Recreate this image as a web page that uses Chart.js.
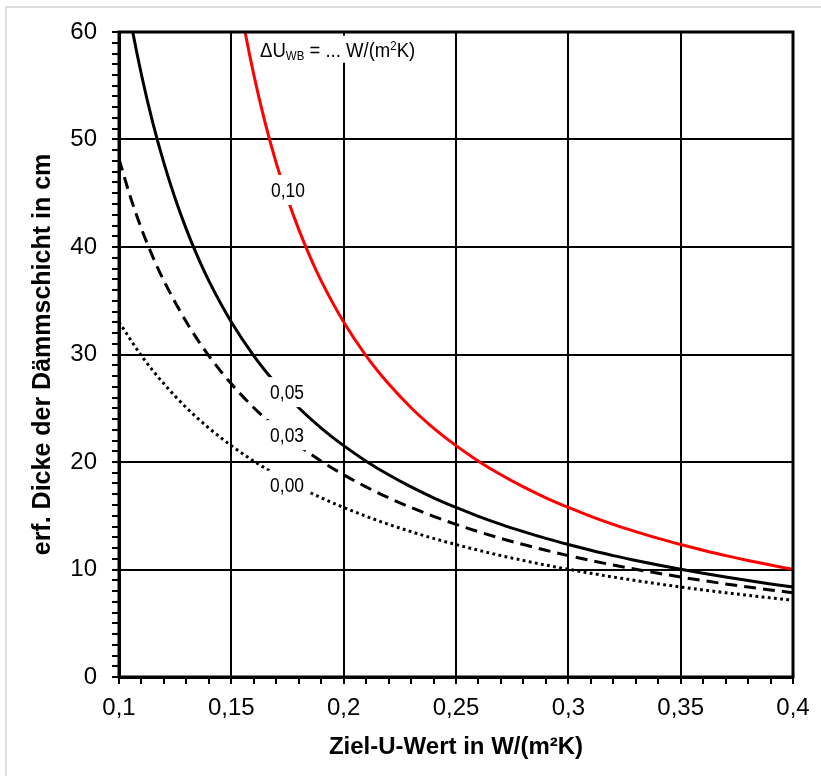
<!DOCTYPE html>
<html>
<head>
<meta charset="utf-8">
<script src="https://cdn.jsdelivr.net/npm/chart.js@4.4.1/dist/chart.umd.min.js"></script>
<style>
html,body{margin:0;padding:0;background:#fff;}
#wrap{position:relative;width:821px;height:776px;}
#frame{position:absolute;left:5px;top:6px;right:0;bottom:0;border-left:2px solid #dedede;border-top:2px solid #dedede;pointer-events:none;}
</style>
</head>
<body>
<div id="wrap"><canvas id="c"></canvas><div id="frame"></div></div>
<script>
// ---- data ----
// x: Ziel-U-Wert in W/(m²K), y: erf. Dicke der Dämmschicht in cm
const U_000 = [0.10,0.11,0.12,0.13,0.14,0.15,0.16,0.17,0.18,0.19,0.20,0.21,0.22,0.23,0.24,0.25,0.26,0.27,0.28,0.29,0.30,0.31,0.32,0.33,0.34,0.35,0.36,0.37,0.38,0.39,0.40];
const D_000 = [33.02,29.88,27.27,25.05,23.16,21.52,20.08,18.81,17.68,16.67,15.77,14.95,14.20,13.52,12.89,12.32,11.79,11.29,10.84,10.41,10.02,9.65,9.30,8.97,8.66,8.37,8.10,7.84,7.60,7.36,7.14];

const U_003 = [0.10,0.105,0.11,0.115,0.12,0.13,0.14,0.15,0.16,0.17,0.18,0.19,0.20,0.21,0.22,0.23,0.24,0.25,0.26,0.27,0.28,0.29,0.30,0.31,0.32,0.33,0.34,0.35,0.36,0.37,0.38,0.39,0.40];
const D_003 = [48.20,44.70,41.70,39.10,36.85,33.02,29.88,27.27,25.05,23.16,21.52,20.08,18.81,17.68,16.67,15.77,14.95,14.20,13.52,12.89,12.32,11.79,11.29,10.84,10.41,10.02,9.65,9.30,8.97,8.66,8.37,8.10,7.84];

const U_005 = [0.10,0.105,0.11,0.115,0.12,0.125,0.13,0.135,0.14,0.15,0.16,0.17,0.18,0.19,0.20,0.21,0.22,0.23,0.24,0.25,0.26,0.27,0.28,0.29,0.30,0.31,0.32,0.33,0.34,0.35,0.36,0.37,0.38,0.39,0.40];
const D_005 = [67.51,61.25,56.02,51.59,47.80,44.52,41.64,39.10,36.85,33.02,29.88,27.27,25.05,23.16,21.52,20.08,18.81,17.68,16.67,15.77,14.95,14.20,13.52,12.89,12.32,11.79,11.29,10.84,10.41,10.02,9.65,9.30,8.97,8.66,8.37];

const U_010 = [0.15,0.155,0.16,0.165,0.17,0.175,0.18,0.185,0.19,0.20,0.21,0.22,0.23,0.24,0.25,0.26,0.27,0.28,0.29,0.30,0.31,0.32,0.33,0.34,0.35,0.36,0.37,0.38,0.39,0.40];
const D_010 = [67.51,61.25,56.02,51.59,47.80,44.52,41.64,39.10,36.85,33.02,29.88,27.27,25.05,23.16,21.52,20.08,18.81,17.68,16.67,15.77,14.95,14.20,13.52,12.89,12.32,11.79,11.29,10.84,10.41,10.02];

const CURVE_LABELS = ['0,10', '0,05', '0,03', '0,00'];
const X_TITLE = 'Ziel-U-Wert in W/(m²K)';
const Y_TITLE = 'erf. Dicke der Dämmschicht in cm';
const X_MIN = 0.1, X_MAX = 0.4, X_MAJOR = 0.05, X_MINOR = 0.01;
const Y_MIN = 0, Y_MAX = 60, Y_MAJOR = 10, Y_MINOR = 1;

// ---- helpers ----
const pts = (us, ds) => us.map((u, i) => ({x: u, y: ds[i]}));
const FONT = '"Liberation Sans", Arial, Helvetica, sans-serif';

const labelPlugin = {
  id: 'curveLabels',
  afterDatasetsDraw(chart, args, opts) {
    const {ctx, scales: {x, y}} = chart;
    ctx.save();
    opts.items.forEach((it, i) => {
      const px = x.getPixelForValue(it.u), py = y.getPixelForValue(it.d);
      ctx.font = opts.size + 'px ' + FONT;
      const w = ctx.measureText(CURVE_LABELS[i]).width * opts.sx;
      ctx.fillStyle = '#fff';
      ctx.fillRect(px - w / 2 - 4, py - 15, w + 8, 30);
      ctx.fillStyle = '#000';
      ctx.textAlign = 'center';
      ctx.textBaseline = 'middle';
      ctx.save();
      ctx.translate(px, py + 1);
      ctx.scale(opts.sx, 1);
      ctx.fillText(CURVE_LABELS[i], 0, 0);
      ctx.restore();
    });
    const h = opts.header;
    let hx = x.getPixelForValue(h.u), hy = y.getPixelForValue(h.d);
    const parts = [
      {t: 'ΔU', s: h.size, dy: 0},
      {t: 'WB', s: h.size * 0.62, dy: 3},
      {t: ' = ... W/(m', s: h.size, dy: 0},
      {t: '2', s: h.size * 0.62, dy: -7},
      {t: 'K)', s: h.size, dy: 0}
    ];
    let total = 0;
    parts.forEach(p => { ctx.font = p.s + 'px ' + FONT; p.w = ctx.measureText(p.t).width * h.sx; total += p.w; });
    ctx.fillStyle = '#fff';
    ctx.fillRect(hx - 4, hy - 21, total + 8, 27);
    ctx.fillStyle = '#000';
    ctx.textAlign = 'left';
    ctx.textBaseline = 'alphabetic';
    parts.forEach(p => {
      ctx.font = p.s + 'px ' + FONT;
      ctx.save();
      ctx.translate(hx, hy + p.dy);
      ctx.scale(h.sx, 1);
      ctx.fillText(p.t, 0, 0);
      ctx.restore();
      hx += p.w;
    });
    ctx.restore();
  },
  afterDraw(chart) {
    const {ctx, chartArea: a} = chart;
    ctx.save();
    ctx.strokeStyle = '#000';
    ctx.lineWidth = 3;
    ctx.strokeRect(a.left, a.top, a.right - a.left, a.bottom - a.top);
    ctx.restore();
  }
};

const isMajor = (v, major, minor) => Math.round(v / minor) % Math.round(major / minor) === 0;

new Chart(document.getElementById('c'), {
  type: 'line',
  data: {
    datasets: [
      {data: pts(U_010, D_010), borderColor: '#ff0000', borderWidth: 3},
      {data: pts(U_005, D_005), borderColor: '#000', borderWidth: 3},
      {data: pts(U_003, D_003), borderColor: '#000', borderWidth: 3, borderDash: [12, 7]},
      {data: pts(U_000, D_000), borderColor: '#000', borderWidth: 3, borderDash: [2.8, 3.4]}
    ]
  },
  options: {
    responsive: true,
    maintainAspectRatio: false,
    animation: false,
    devicePixelRatio: 1,
    layout: {padding: {left: 0, top: 32, right: 28, bottom: 0}},
    elements: {
      point: {radius: 0, hoverRadius: 0},
      line: {cubicInterpolationMode: 'monotone', fill: false}
    },
    plugins: {
      legend: {display: false},
      tooltip: {enabled: false},
      curveLabels: {
        size: 20, sx: 0.87,
        items: [
          {u: 0.1752, d: 45.3},
          {u: 0.1748, d: 26.5},
          {u: 0.1748, d: 22.5},
          {u: 0.1748, d: 17.8}
        ],
        header: {u: 0.1628, d: 57.7, size: 19.5, sx: 0.95}
      }
    },
    scales: {
      x: {
        type: 'linear',
        min: X_MIN, max: X_MAX,
        afterFit: s => { s.height = 99; },
        border: {display: true, color: '#000', width: 3},
        grid: {
          color: c => isMajor(c.tick.value, X_MAJOR, X_MINOR) ? '#000' : 'rgba(0,0,0,0)',
          lineWidth: 2,
          tickColor: '#000',
          tickWidth: 2,
          tickLength: 7
        },
        ticks: {
          stepSize: X_MINOR,
          autoSkip: false,
          minRotation: 0, maxRotation: 0,
          padding: 10,
          color: '#000',
          font: {family: FONT, size: 24},
          callback: v => isMajor(v, X_MAJOR, X_MINOR) ? String(Math.round(v * 100) / 100).replace('.', ',') : ''
        },
        title: {
          display: true, text: X_TITLE, color: '#000',
          font: {family: FONT, size: 24, weight: 'bold'},
          padding: {top: 14, bottom: 14}
        }
      },
      y: {
        type: 'linear',
        min: Y_MIN, max: Y_MAX,
        afterFit: s => { s.width = 119; },
        border: {display: true, color: '#000', width: 3},
        grid: {
          color: c => isMajor(c.tick.value, Y_MAJOR, Y_MINOR) ? '#000' : 'rgba(0,0,0,0)',
          lineWidth: 2,
          tickColor: '#000',
          tickWidth: 2,
          tickLength: 7
        },
        ticks: {
          stepSize: Y_MINOR,
          autoSkip: false,
          padding: 15,
          color: '#000',
          font: {family: FONT, size: 24},
          callback: v => isMajor(v, Y_MAJOR, Y_MINOR) ? String(v) : ''
        },
        title: {
          display: true, text: Y_TITLE, color: '#000',
          font: {family: FONT, size: 25, weight: 'bold'},
          padding: {top: 28, bottom: 28}
        }
      }
    }
  },
  plugins: [labelPlugin]
});
</script>
</body>
</html>
